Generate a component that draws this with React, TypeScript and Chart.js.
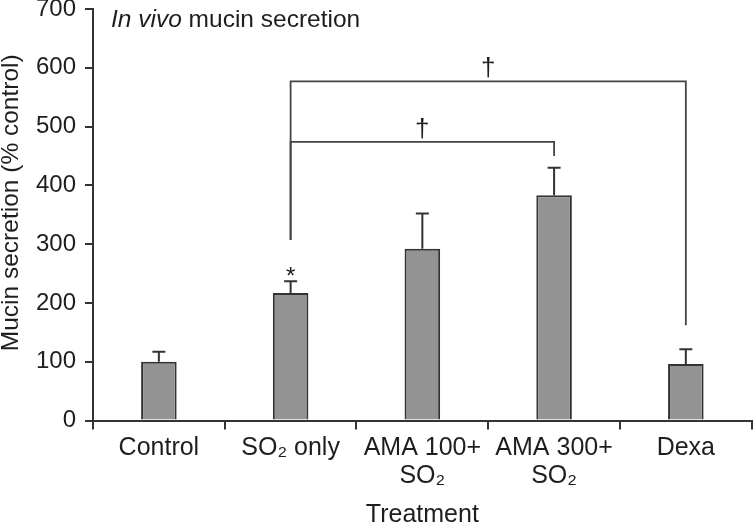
import { useEffect, useRef } from "react";
import { Chart, registerables } from "chart.js";

Chart.register(...registerables);

const FONT = "'Liberation Sans', Arial, Helvetica, sans-serif";
const TEXT = "#1e1e1e";

// ---- data ----
const categories: string[][] = [
  ["Control"],
  ["SO\u2082 only"],
  ["AMA 100+", "SO\u2082"],
  ["AMA 300+", "SO\u2082"],
  ["Dexa"],
];
const meanValues = [100, 217, 292, 383, 96];
const semValues = [17, 20, 60, 47, 25];
const yMin = 0;
const yMax = 700;
const yStep = 100;

// significance marks
const asteriskIndices = [1];
const bracketFrom = [1, 1];
const bracketTo = [4, 3];
const bracketLevel = [577, 474];
const bracketFromBottom = [307, 307];
const bracketToBottom = [162, 450];
const bracketLabels = ["\u2020", "\u2020"];

const titleItalic = "In vivo";
const titleRest = " mucin secretion";
const yTitle = "Mucin secretion (% control)";
const xTitle = "Treatment";

const annotationPlugin = {
  id: "annotations",
  afterDatasetsDraw(chart: any) {
    const { ctx, scales, chartArea } = chart;
    const x = scales.x;
    const y = scales.y;
    ctx.save();

    // error bars
    ctx.strokeStyle = "#333";
    ctx.lineWidth = 2;
    meanValues.forEach((m, i) => {
      const px = x.getPixelForValue(i);
      const top = y.getPixelForValue(m);
      const cap = y.getPixelForValue(m + semValues[i]);
      ctx.beginPath();
      ctx.moveTo(px, top);
      ctx.lineTo(px, cap);
      ctx.moveTo(px - 6.5, cap);
      ctx.lineTo(px + 6.5, cap);
      ctx.stroke();
    });

    // asterisks
    ctx.fillStyle = TEXT;
    ctx.font = `24px ${FONT}`;
    ctx.textAlign = "center";
    ctx.textBaseline = "alphabetic";
    asteriskIndices.forEach((i) => {
      const cap = y.getPixelForValue(meanValues[i] + semValues[i]);
      ctx.fillText("*", x.getPixelForValue(i), cap + 3);
    });

    // brackets
    ctx.strokeStyle = "#444";
    ctx.lineWidth = 1.8;
    bracketFrom.forEach((f, k) => {
      const x1 = x.getPixelForValue(f);
      const x2 = x.getPixelForValue(bracketTo[k]);
      const lv = y.getPixelForValue(bracketLevel[k]);
      ctx.beginPath();
      ctx.moveTo(x1, y.getPixelForValue(bracketFromBottom[k]));
      ctx.lineTo(x1, lv);
      ctx.lineTo(x2, lv);
      ctx.lineTo(x2, y.getPixelForValue(bracketToBottom[k]));
      ctx.stroke();
      ctx.font = `26px ${FONT}`;
      ctx.fillStyle = TEXT;
      ctx.textAlign = "center";
      ctx.textBaseline = "alphabetic";
      ctx.fillText(bracketLabels[k], (x1 + x2) / 2, lv - 5);
    });

    // chart title (inside plot, top-left)
    ctx.fillStyle = TEXT;
    ctx.textAlign = "left";
    ctx.textBaseline = "alphabetic";
    const tx = chartArea.left + 18;
    const ty = chartArea.top + 18;
    ctx.font = `italic 24.5px ${FONT}`;
    ctx.fillText(titleItalic, tx, ty);
    const w = ctx.measureText(titleItalic).width;
    ctx.font = `24.5px ${FONT}`;
    ctx.fillText(titleRest, tx + w, ty);

    // y axis title
    ctx.save();
    ctx.translate(18, (chartArea.top + chartArea.bottom) / 2 - 12);
    ctx.rotate(-Math.PI / 2);
    ctx.textAlign = "center";
    ctx.textBaseline = "alphabetic";
    ctx.font = `24.5px ${FONT}`;
    ctx.fillText(yTitle, 0, 0);
    ctx.restore();

    ctx.restore();
  },
};

export default function App() {
  const canvasRef = useRef<HTMLCanvasElement | null>(null);

  useEffect(() => {
    if (!canvasRef.current) return;
    const chart = new Chart(canvasRef.current, {
      type: "bar",
      data: {
        labels: categories,
        datasets: [
          {
            data: meanValues,
            backgroundColor: "#939393",
            borderColor: "#333",
            borderWidth: 2,
            barPercentage: 0.27,
            categoryPercentage: 1,
          },
        ],
      },
      options: {
        responsive: false,
        animation: false,
        layout: { padding: { left: 0, right: 1.3, top: 9, bottom: 0 } },
        plugins: {
          legend: { display: false },
          tooltip: { enabled: false },
        },
        scales: {
          x: {
            grid: {
              offset: true,
              drawOnChartArea: false,
              drawTicks: true,
              tickLength: 9,
              color: "#333",
              lineWidth: 2,
            },
            border: { display: true, color: "#333", width: 2 },
            ticks: {
              color: TEXT,
              font: { family: FONT, size: 25, lineHeight: 1.12 },
              padding: 5,
              maxRotation: 0,
              autoSkip: false,
            },
            title: {
              display: true,
              text: xTitle,
              color: TEXT,
              font: { family: FONT, size: 25, lineHeight: 0.8 },
              padding: 0,
            },
            afterFit: (scale: any) => {
              scale.height = 104.5;
              scale.paddingLeft = 0;
              scale.paddingRight = 0;
            },
          },
          y: {
            min: yMin,
            max: yMax,
            ticks: {
              stepSize: yStep,
              color: TEXT,
              font: { family: FONT, size: 24 },
              padding: 9,
            },
            grid: {
              drawOnChartArea: false,
              drawTicks: true,
              tickLength: 8,
              color: "#333",
              lineWidth: 2,
            },
            border: { display: true, color: "#333", width: 2 },
            afterFit: (scale: any) => {
              scale.width = 93;
              scale.paddingTop = 0;
              scale.paddingBottom = 0;
            },
          },
        },
      },
      plugins: [annotationPlugin],
    });
    return () => chart.destroy();
  }, []);

  return (
    <div style={{ position: "absolute", left: 0, top: 0, width: 753, height: 525, background: "#fff" }}>
      <canvas ref={canvasRef} width={753} height={525} style={{ display: "block" }} />
    </div>
  );
}
